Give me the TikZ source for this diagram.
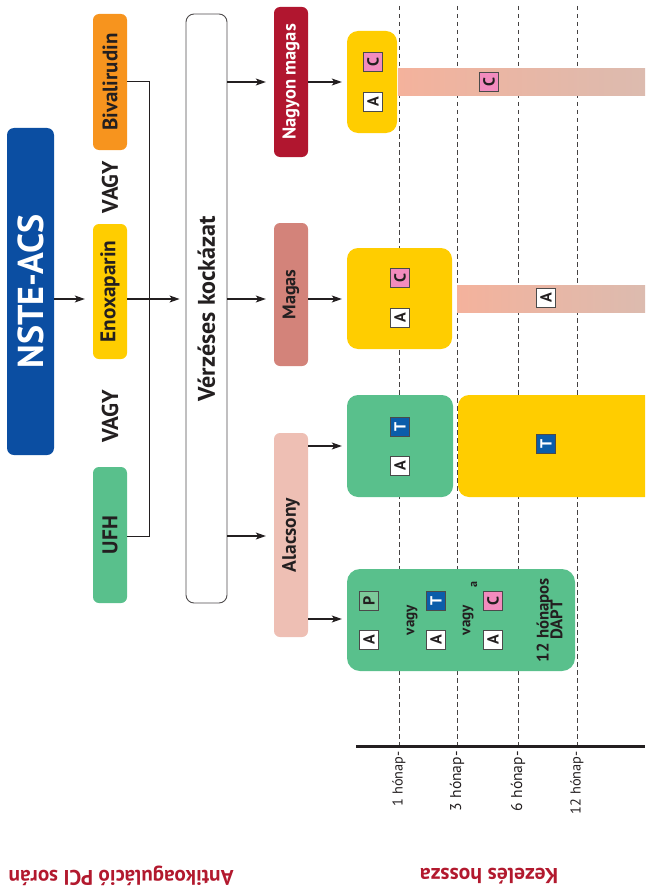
\documentclass[tikz,border=0pt]{standalone}
\usepackage{fontspec}
\setmainfont{PT Sans}
\usetikzlibrary{arrows.meta}
\definecolor{ink}{HTML}{231F20}
\definecolor{nblue}{HTML}{0B4EA2}
\definecolor{orng}{HTML}{F7941E}
\definecolor{yell}{HTML}{FFCD00}
\definecolor{grn}{HTML}{59C08C}
\definecolor{dred}{HTML}{B1162F}
\definecolor{magc}{HTML}{D3837A}
\definecolor{alac}{HTML}{EEBFB4}
\definecolor{pinkc}{HTML}{F28BBE}
\definecolor{bluet}{HTML}{0B5DAA}
\definecolor{greenp}{HTML}{7DC99A}
\definecolor{gradl}{HTML}{F4B29C}
\definecolor{gradr}{HTML}{DCBBAF}
\definecolor{redtxt}{HTML}{B2192E}
\definecolor{sqb}{HTML}{4A4A4A}
\newcommand{\fs}[1]{\fontsize{#1}{#1}\selectfont}
\newcommand{\rt}[1]{\rotatebox{90}{#1}}
\newcommand{\rl}[2]{\rotatebox{90}{\resizebox{#1}{!}{#2}}}
\begin{document}
\begin{tikzpicture}[x=1pt,y=-1pt,
  pill/.style={rounded corners=6pt, inner sep=0pt, align=center, text=ink, font=\bfseries\fs{20}},
  tbox/.style={rounded corners=11pt, inner sep=0pt},
  arr/.style={draw=ink, line width=1.1pt, -{Stealth[length=10pt,width=7pt,inset=2.5pt]}},
  ln/.style={draw=ink, line width=1pt},
  sq/.style={draw=sqb, line width=0.8pt, minimum size=19pt, inner sep=0pt, font=\bfseries\fs{16}, text=ink},
  gridline/.style={draw=ink!85, line width=0.8pt, dash pattern=on 4.5pt off 3.5pt},
  tick/.style={anchor=north, inner sep=0pt, font=\fs{15}, text=ink},
  vg/.style={font=\bfseries\fs{20}, text=ink, inner sep=0pt}
]
\useasboundingbox (0,0) rectangle (645,888);
\clip (0,0) rectangle (645,888);
% grid lines
\foreach \x/\n in {399/g1,457/g2,518/g3,577/g4}{
  \coordinate (\n t) at (\x,6);
  \coordinate (\n b) at (\x,745);
  \draw[gridline] (\n t) -- (\n b);
}
% axis
\coordinate (axl) at (356,746);
\coordinate (axr) at (645,746);
\draw[draw=ink, line width=3pt] (axl) -- (axr);
\node[tick] (tk1) at (399,751) {\rl{55pt}{1 hónap-}};
\node[tick] (tk2) at (457,751) {\rl{60pt}{3 hónap-}};
\node[tick] (tk3) at (518,751) {\rl{60pt}{6 hónap-}};
\node[tick] (tk4) at (577,751) {\rl{63pt}{12 hónap-}};

% left column
\node[pill, fill=nblue, minimum width=47pt, minimum height=327pt, rounded corners=7pt, text=white] (nste) at (30.5,291.5) {\rl{154pt}{NSTE-ACS}};
\node[pill, fill=orng, minimum width=34pt, minimum height=136pt] (biv) at (110,82) {\rl{97pt}{Bivalirudin}};
\node[vg] (vagy1) at (110,187) {\rl{52pt}{VAGY}};
\node[pill, fill=yell, minimum width=34pt, minimum height=135pt] (enox) at (110,291.5) {\rl{102pt}{Enoxaparin}};
\node[vg] (vagy2) at (110,416) {\rl{53pt}{VAGY}};
\node[pill, fill=grn, minimum width=34pt, minimum height=136pt] (ufh) at (110,535) {\rl{38pt}{UFH}};
\node[pill, draw=ink!80, line width=0.9pt, fill=white, minimum width=41pt, minimum height=589pt, rounded corners=8pt] (verz) at (206.5,308.5) {\rl{185pt}{Vérzéses kockázat}};
\node[pill, fill=dred, minimum width=34pt, minimum height=150pt, text=white] (nm) at (291,82) {\rl{116pt}{Nagyon magas}};
\node[pill, fill=magc, minimum width=34pt, minimum height=143pt] (mg) at (291,294.5) {\rl{50pt}{Magas}};
\node[pill, fill=alac, minimum width=34pt, minimum height=204pt] (al) at (291,535) {\rl{74pt}{Alacsony}};

\coordinate (r1) at (0,82);
\coordinate (r2) at (0,299);
\coordinate (r3) at (0,536);
\coordinate (r4) at (0,446);
\coordinate (r5) at (0,619);
\coordinate (jt) at (149,82);
\coordinate (jb) at (149,536);
\draw[ln] (biv.east |- r1) -- (jt) -- (jb) -- (ufh.east |- r3);
\draw[arr] (nste.east |- r2) -- ([xshift=-8pt]enox.west |- r2);
\draw[arr] (enox.east |- r2) -- ([xshift=-6pt]verz.west |- r2);
\draw[arr] (verz.east |- r1) -- ([xshift=-8pt]nm.west |- r1);
\draw[arr] (verz.east |- r2) -- ([xshift=-8pt]mg.west |- r2);
\draw[arr] (verz.east |- r3) -- ([xshift=-8pt]al.west |- r3);

% treatment boxes
\node[tbox, fill=yell, minimum width=50pt, minimum height=102pt] (t1) at (372,82) {};
\node[inner sep=0pt, minimum width=247pt, minimum height=27pt, left color=gradl, right color=gradr] (bar1) at (521.5,82.5) {};
\node[tbox, fill=yell, minimum width=105pt, minimum height=101pt] (t2) at (399.5,298.5) {};
\node[inner sep=0pt, minimum width=188pt, minimum height=27pt, left color=gradl, right color=gradr] (bar2) at (551,298.5) {};
\node[tbox, fill=grn, minimum width=106pt, minimum height=102pt] (t3) at (400,446) {};
\node[tbox, fill=yell, minimum width=207pt, minimum height=102pt] (t4) at (561.5,446) {};
\node[tbox, fill=grn, minimum width=228pt, minimum height=102pt, rounded corners=13pt] (t5) at (461,620) {};

\draw[arr] (nm.east |- r1) -- ([xshift=-5pt]t1.west |- r1);
\draw[arr] (mg.east |- r2) -- ([xshift=-5pt]t2.west |- r2);
\draw[arr] (al.east |- r4) -- ([xshift=-5pt]t3.west |- r4);
\draw[arr] (al.east |- r5) -- ([xshift=-5pt]t5.west |- r5);

% squares
\node[sq, fill=pinkc] (c1) at (373,62) {\rt{C}};
\node[sq, fill=white] (a1) at (373,102) {\rt{A}};
\node[sq, fill=pinkc] (c1b) at (489,82) {\rt{C}};
\node[sq, fill=pinkc] (c2) at (400,278) {\rt{C}};
\node[sq, fill=white] (a2) at (400,318) {\rt{A}};
\node[sq, fill=white] (a2b) at (546,298) {\rt{A}};
\node[sq, fill=bluet, text=white] (tt3) at (400,427) {\rt{T}};
\node[sq, fill=white] (a3) at (400,466) {\rt{A}};
\node[sq, fill=bluet, text=white] (tt4) at (546,444) {\rt{T}};
\node[sq, fill=greenp] (p5) at (369,601) {\rt{P}};
\node[sq, fill=white] (a5) at (369,640) {\rt{A}};
\node[vg] (v1) at (412,620) {\rl{30pt}{vagy}};
\node[sq, fill=bluet, text=white] (tt5) at (436,601) {\rt{T}};
\node[sq, fill=white] (a6) at (436,640) {\rt{A}};
\node[vg] (v2) at (468,620) {\rl{30pt}{vagy}};
\node[inner sep=0pt, font=\bfseries\fs{12}, text=ink] (sup) at (474,585) {\rt{a}};
\node[sq, fill=pinkc] (c5) at (493,601) {\rt{C}};
\node[sq, fill=white] (a7) at (493,640) {\rt{A}};
\node[inner sep=0pt, font=\bfseries\fs{20}, text=ink] (dapt) at (552,620) {\rl{84pt}{\begin{tabular}{@{}c@{}}12 hónapos\\[-4pt]DAPT\end{tabular}}};

% bottom titles
\node[inner sep=0pt, font=\bfseries\fs{18}, text=redtxt] (ttl1) at (121,876) {\rotatebox{180}{\resizebox{225pt}{!}{Antikoaguláció PCI során}}};
\node[inner sep=0pt, font=\bfseries\fs{18}, text=redtxt] (ttl2) at (489,876) {\rotatebox{180}{\resizebox{138pt}{!}{Kezelés hossza}}};
\end{tikzpicture}
\end{document}
